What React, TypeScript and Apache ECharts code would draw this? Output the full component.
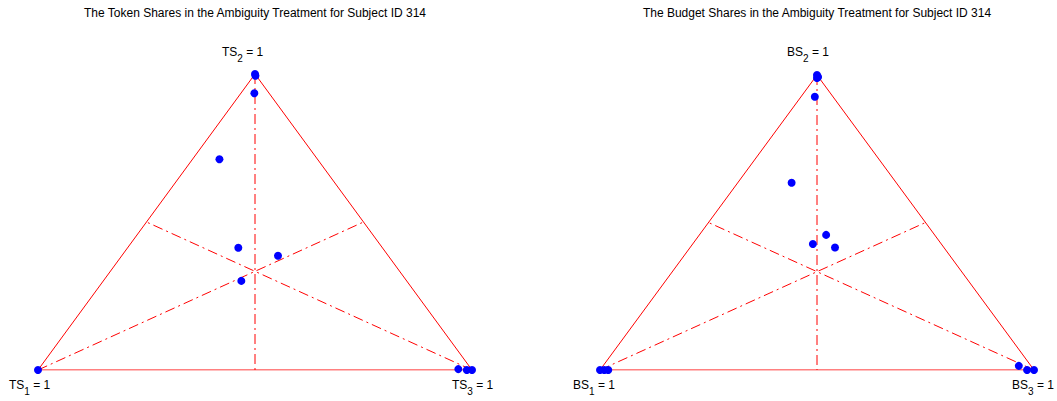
import React, { useEffect, useRef } from "react";
import * as echarts from "echarts";

// Shares [s1, s2, s3] per subject choice
const tokenShares: number[][] = [
  [0, 1, 0],
  [0.002, 0.994, 0.004],
  [0.034, 0.935, 0.031],
  [0.226, 0.712, 0.062],
  [0.332, 0.413, 0.255],
  [0.254, 0.386, 0.36],
  [0.381, 0.301, 0.318],
  [1, 0, 0],
  [0.03, 0.003, 0.967],
  [0.012, 0, 0.988],
  [0, 0, 1],
];
const budgetShares: number[][] = [
  [0, 1, 0],
  [0.001, 0.993, 0.006],
  [0.005, 0.99, 0.005],
  [0.042, 0.926, 0.032],
  [0.241, 0.635, 0.124],
  [0.25, 0.458, 0.292],
  [0.296, 0.427, 0.277],
  [0.251, 0.415, 0.334],
  [1, 0, 0],
  [0.99, 0, 0.01],
  [0.981, 0, 0.019],
  [0.028, 0.014, 0.958],
  [0.016, 0, 0.984],
  [0, 0, 1],
];
const titles = [
  "The Token Shares in the Ambiguity Treatment for Subject ID 314",
  "The Budget Shares in the Ambiguity Treatment for Subject ID 314",
];
const vertexPrefixes = ["TS", "BS"];

const FONT = "Liberation Sans, Arial, sans-serif";

const proj = (s: number[]) => [s[2] + s[1] / 2, s[1]];

export default function App() {
  const ref = useRef<HTMLDivElement>(null);
  useEffect(() => {
    if (!ref.current) return;
    const chart = echarts.init(ref.current, undefined, { renderer: "svg" });
    const grids = [
      { left: 38, top: 74, width: 434, height: 296 },
      { left: 600, top: 75, width: 434, height: 295 },
    ];
    const V1 = [1, 0, 0], V2 = [0, 1, 0], V3 = [0, 0, 1];
    const mid = (a: number[], b: number[]) => a.map((v, i) => (v + b[i]) / 2);
    const series: any[] = [];
    [tokenShares, budgetShares].forEach((shares, i) => {
      series.push({
        type: "line", xAxisIndex: i, yAxisIndex: i, symbol: "none", silent: true,
        lineStyle: { color: "#ff0000", width: 1 },
        data: [V1, V2, V3, V1].map(proj),
      });
      const dd = [
        [V2, mid(V1, V3)],
        [V1, mid(V2, V3)],
        [V3, mid(V1, V2)],
      ];
      dd.forEach((seg) => {
        series.push({
          type: "line", xAxisIndex: i, yAxisIndex: i, symbol: "none", silent: true,
          lineStyle: { color: "#ff0000", width: 1, type: [10, 4, 2, 4] },
          data: seg.map(proj),
        });
      });
      series.push({
        type: "scatter", xAxisIndex: i, yAxisIndex: i, symbolSize: 8,
        itemStyle: { color: "#0000ff", opacity: 1 },
        data: shares.map(proj),
        z: 5,
      });
    });
    const axisBase = { min: 0, max: 1, show: false, splitLine: { show: false } };
    const rich = {
      a: { fontSize: 12, fontFamily: FONT, color: "#000", verticalAlign: "top", lineHeight: 14 },
      b: { fontSize: 10, fontFamily: FONT, color: "#000", verticalAlign: "top", padding: [7, 0, 0, 0], lineHeight: 10 },
    };
    const label = (p: string, n: number, x: number, y: number) => ({
      type: "text", x, y,
      style: { text: `{a|${p}}{b|${n}}{a| = 1}`, rich, x: 0, y: 0 },
    });
    const graphic: any[] = [];
    titles.forEach((t, i) => {
      const cx = grids[i].left + grids[i].width / 2;
      graphic.push({
        type: "text", x: cx, y: 7,
        style: { text: t, fontSize: 12, fontFamily: FONT, fill: "#000", textAlign: "center" },
      });
    });
    graphic.push(label(vertexPrefixes[0], 2, 222, 46));
    graphic.push(label(vertexPrefixes[0], 1, 9, 379));
    graphic.push(label(vertexPrefixes[0], 3, 452, 379));
    graphic.push(label(vertexPrefixes[1], 2, 787, 46));
    graphic.push(label(vertexPrefixes[1], 1, 573, 379));
    graphic.push(label(vertexPrefixes[1], 3, 1012, 379));
    chart.setOption({
      animation: false,
      grid: grids,
      xAxis: [{ ...axisBase, gridIndex: 0 }, { ...axisBase, gridIndex: 1 }],
      yAxis: [{ ...axisBase, gridIndex: 0 }, { ...axisBase, gridIndex: 1 }],
      series,
      graphic,
    });
    return () => chart.dispose();
  }, []);
  return <div ref={ref} style={{ width: 1057, height: 401, position: "absolute", left: 0, top: 0, background: "#fff" }} />;
}
